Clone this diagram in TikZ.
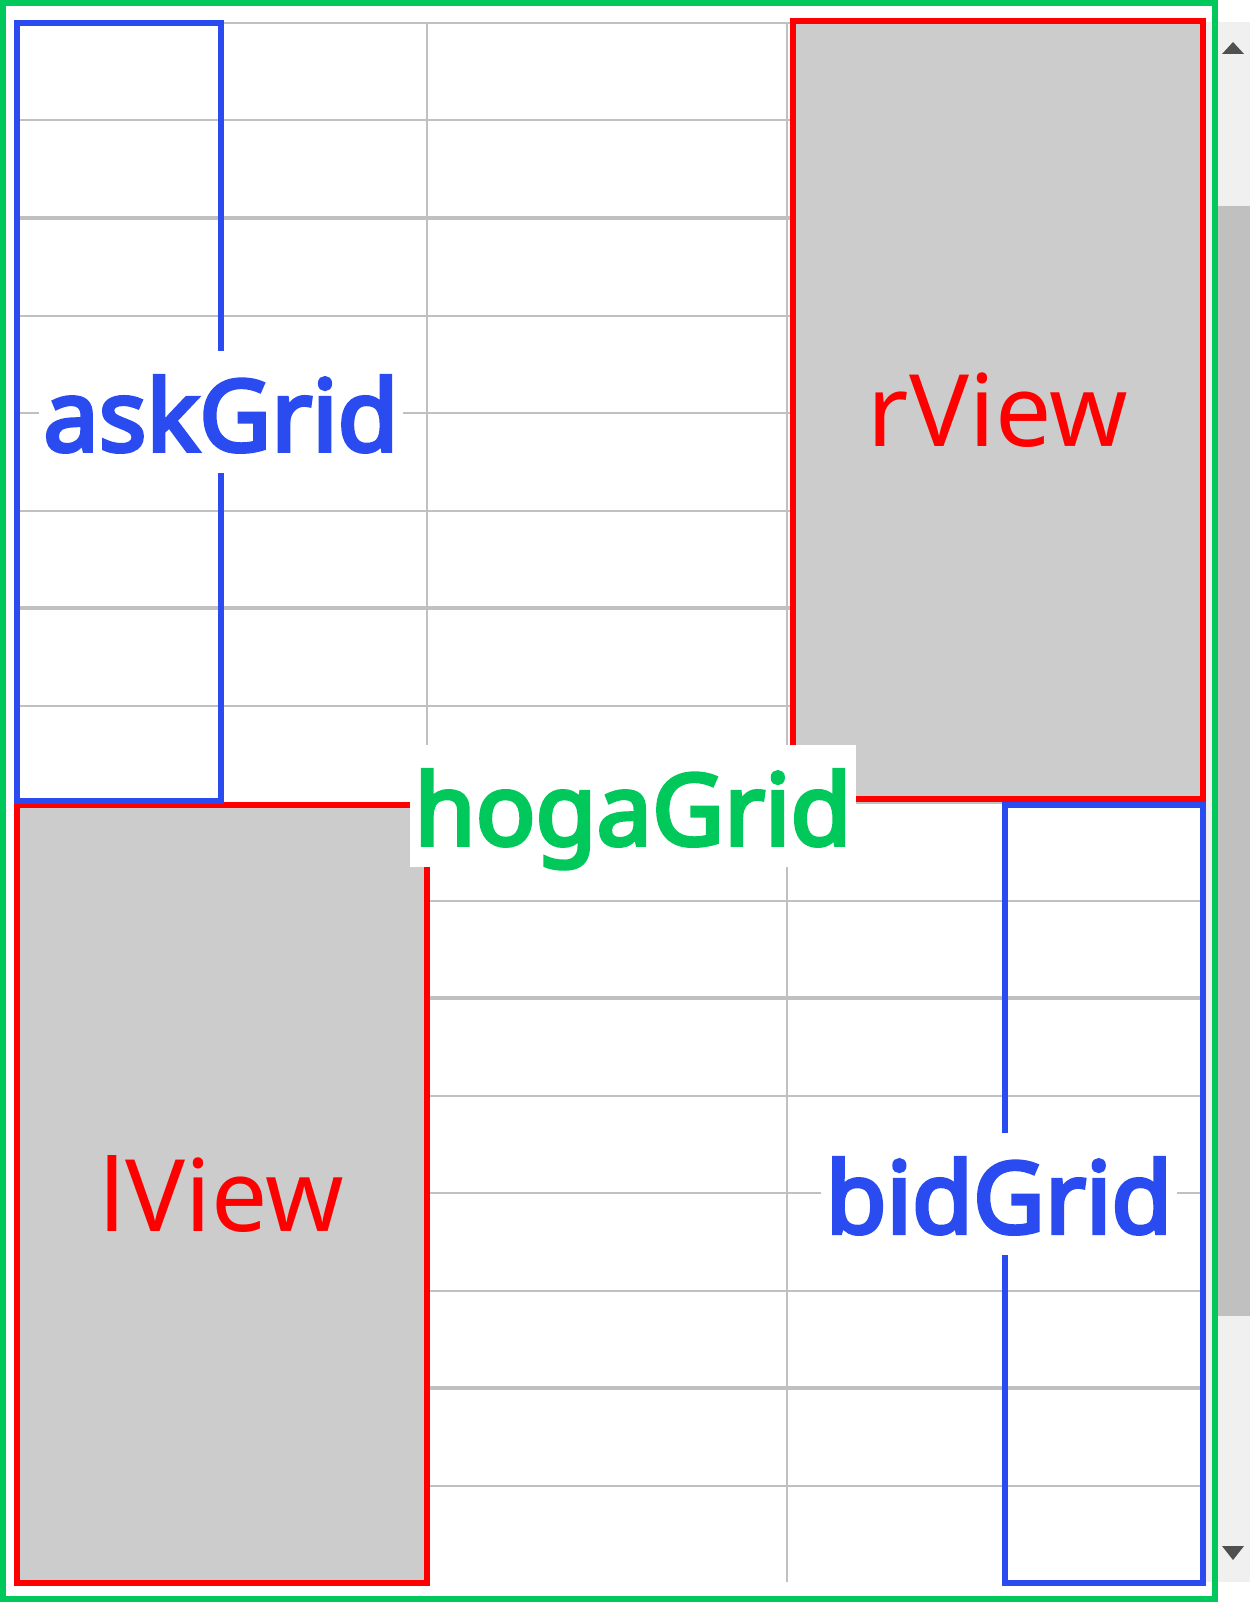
\documentclass[tikz,border=0pt]{standalone}
\usepackage{fontspec}
\setmainfont{Noto Sans}[BoldFont={Noto Sans},BoldFeatures={FakeBold=4}]
\usetikzlibrary{positioning}
\definecolor{frame}{HTML}{00C85A}
\definecolor{gridblue}{HTML}{2A4BF0}
\definecolor{viewred}{HTML}{FF0000}
\definecolor{viewfill}{HTML}{CCCCCC}
\definecolor{rowline}{HTML}{C0C0C0}
\definecolor{track}{HTML}{F0F0F0}
\definecolor{arrowgray}{HTML}{505050}

\begin{document}
\begin{tikzpicture}[x=1pt,y=-1pt,
    rowrule/.style={draw=rowline,line width=2pt},
    viewbox/.style={draw=viewred,fill=viewfill,line width=6pt,anchor=north west,inner sep=0pt,outer sep=0pt},
    gridbox/.style={draw=gridblue,line width=6pt,anchor=north west,inner sep=0pt,outer sep=0pt},
    viewtag/.style={text=viewred,font=\fontsize{100}{120}\selectfont},
    tag/.style={fill=white,inner xsep=4.5pt,inner ysep=0pt,text height=100pt,text depth=22pt,font=\fontsize{99}{120}\selectfont\bfseries}]
  \useasboundingbox[fill=white] (0,0) rectangle (1250,1602);
  % scroll bar
  \node[fill=track,inner sep=0pt,outer sep=0pt,minimum width=44pt,minimum height=1560pt,anchor=north west] (track) at (1206,22) {};
  \node[fill=rowline,inner sep=0pt,outer sep=0pt,minimum width=32pt,minimum height=1110pt,anchor=north west] (thumb) at (1218,206) {};
  \fill[arrowgray] (1222,54) -- (1244,54) -- (1233,42) -- cycle;
  \fill[arrowgray] (1222,1546) -- (1244,1546) -- (1233,1560) -- cycle;
  % rows and columns
  \foreach \r in {0,...,15}
    \draw[rowrule] (20,{23+97.5*\r}) -- (1200,{23+97.5*\r});
  \foreach \r in {2,6,10,14}
    \draw[rowrule,line width=4pt] (20,{23+97.5*\r}) -- (1200,{23+97.5*\r});
  \foreach \c in {427,787}
    \draw[rowrule] (\c,22) -- (\c,1582);
  % views and grids
  \node[viewbox,minimum width=410pt,minimum height=778pt] (rView) at (793,21) {};
  \node[viewbox,minimum width=410pt,minimum height=778pt] (lView) at (17,805) {};
  \node[gridbox,minimum width=204pt,minimum height=778pt] (askGrid) at (17,23) {};
  \node[gridbox,minimum width=198pt,minimum height=778pt] (bidGrid) at (1005,805) {};
  \node[viewtag] (rViewTag) at (rView) {rView};
  \node[viewtag] (lViewTag) at (lView) {lView};
  \node[tag,text=gridblue] (askTag) at (askGrid.east) {askGrid};
  \node[tag,text=gridblue] (bidTag) at ([xshift=-6pt]bidGrid.west) {bidGrid};
  \node[tag,text=frame] (hogaTag) at (633,806) {hogaGrid};
  \node[draw=frame,line width=6pt,inner sep=0pt,outer sep=0pt,minimum width=1212pt,minimum height=1596pt,anchor=north west] (hogaGrid) at (3,3) {};
\end{tikzpicture}
\end{document}
